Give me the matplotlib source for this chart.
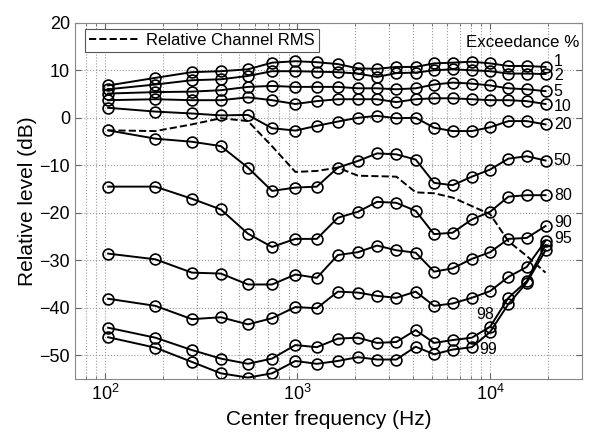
import matplotlib.pyplot as plt
import numpy as np

plt.rcParams['font.family'] = ['Liberation Sans', 'DejaVu Sans']

freq = [104, 183, 283, 400, 553, 738, 975, 1260, 1620, 2060,
        2590, 3260, 4110, 5120, 6390, 8040, 10000, 12450, 15500, 19400]

exc_labels = ["1", "2", "5", "10", "20", "50", "80", "90", "95", "98", "99"]

p1 = [6.8, 8.4, 9.6, 9.8, 10.2, 11.6, 11.9, 11.7, 11.3, 10.4,
      10.3, 10.7, 10.7, 11.45, 11.6, 11.8, 11.45, 10.9, 10.9, 10.7]
p2 = [6.0, 7.0, 7.9, 8.1, 8.8, 9.8, 9.8, 9.7, 9.6, 9.3,
      8.6, 9.4, 9.5, 10.0, 10.2, 10.0, 9.8, 9.3, 9.3, 9.2]
p5 = [5.1, 5.4, 5.5, 5.8, 6.5, 6.7, 6.5, 6.5, 6.5, 6.2,
      6.2, 6.0, 6.2, 7.0, 7.4, 7.2, 6.8, 6.2, 6.0, 5.6]
p10 = [3.7, 3.9, 3.7, 3.7, 4.3, 3.7, 2.9, 3.5, 3.9, 3.9,
       3.9, 3.3, 3.9, 4.1, 4.1, 3.9, 3.7, 3.7, 3.5, 2.9]
p20 = [2.1, 1.3, 0.9, 0.5, 0.6, -2.2, -2.7, -1.7, -0.8, 0.0,
       0.4, -0.1, 0.0, -2.1, -2.8, -2.8, -2.0, -0.7, -0.7, -1.4]
p50 = [-2.65, -4.4, -5.05, -5.96, -10.5, -15.4, -14.7, -14.5, -10.5, -9.1,
       -7.5, -7.7, -8.8, -13.7, -14.2, -12.4, -10.9, -8.6, -8.1, -9.0]
p80 = [-14.5, -14.5, -17.05, -19.3, -24.4, -27.2, -25.5, -25.5, -21.05, -19.8,
       -17.7, -17.9, -19.6, -24.5, -24.2, -21.4, -19.8, -16.6, -16.3, -16.3]
p90 = [-28.6, -29.8, -32.6, -32.8, -35.1, -35.1, -33.0, -33.7, -28.9, -28.3,
       -26.9, -27.9, -28.4, -32.4, -31.7, -29.7, -28.3, -25.5, -25.3, -22.8]
p95 = [-38.1, -39.6, -42.4, -42.0, -43.5, -42.2, -39.85, -40.1, -36.6, -36.8,
       -37.5, -37.9, -36.6, -39.6, -39.1, -37.9, -36.5, -33.5, -31.4, -25.9]
p98 = [-44.2, -46.3, -48.9, -50.7, -51.8, -50.7, -47.85, -48.3, -46.5, -46.3,
       -47.4, -47.2, -44.7, -47.4, -46.8, -46.3, -44.0, -37.9, -34.4, -26.8]
p99 = [-46.2, -48.4, -51.4, -53.8, -54.7, -53.8, -51.2, -51.8, -51.2, -50.4,
       -50.9, -50.9, -48.2, -49.8, -48.8, -48.3, -45.1, -39.2, -34.7, -27.9]

rms = [-2.65, -2.8, -1.4, -0.1, -0.7, -6.0, -11.4, -11.2, -10.5, -12.2,
       -12.3, -12.4, -15.7, -15.9, -16.8, -18.6, -20.3, -26.0, -29.1, -32.6]

curves = [p1, p2, p5, p10, p20, p50, p80, p90, p95, p98, p99]

fig = plt.figure(figsize=(6.01, 4.42), dpi=100)
ax = fig.add_axes([0.1248, 0.1425, 0.8436, 0.806])

ax.plot(freq, rms, 'k--', lw=1.4, label="Relative Channel RMS")
for c in curves:
    ax.plot(freq, c, 'k-', lw=1.4, marker='o', ms=7.8, mfc='none', mec='k', mew=1.2)

# labels at right end of each curve
dy = [4, -1, 0, -1.5, 0, 0, 0, 2.5, 1.5]
for lab, c, d in zip(exc_labels[:9], curves[:9], dy):
    ax.annotate(lab, (freq[-1], c[-1]), xytext=(6, d), textcoords='offset points',
                ha='left', va='center', fontsize=11.5)
ax.annotate("98", (freq[16], p98[16]), xytext=(3, 9), textcoords='offset points',
            ha='right', va='center', fontsize=11.5)
ax.annotate("99", (freq[15], p99[15]), xytext=(5, -1.5), textcoords='offset points',
            ha='left', va='center', fontsize=11.5)
ax.text(0.995, 0.944, "Exceedance %", transform=ax.transAxes, ha='right',
        va='center', fontsize=12.2)

ax.set_xscale('log')
ax.set_xlim(70, 30000)
ax.set_ylim(-55, 20)
ax.set_yticks(np.arange(-50, 21, 10))
ax.grid(True, which='major', ls=':', color='#999999', lw=0.8)
ax.grid(True, which='minor', axis='x', ls=':', color='#999999', lw=0.8)
ax.tick_params(which='both', direction='in', top=True, right=True,
               labelsize=13, color='#666666')
ax.tick_params(which='major', length=4)
ax.tick_params(which='minor', length=2)
for s in ax.spines.values():
    s.set_color('#888888')

ax.set_xlabel("Center frequency (Hz)", fontsize=15, labelpad=4)
ax.set_ylabel("Relative level (dB)", fontsize=15, labelpad=2)

leg = ax.legend(loc='upper left', fontsize=12, handlelength=3.0,
                fancybox=False, framealpha=1, borderpad=0.25, borderaxespad=0,
                bbox_to_anchor=(0.02, 0.983), handletextpad=0.4)
leg.get_frame().set_edgecolor('#555555')
leg.get_frame().set_linewidth(0.8)

fig.savefig("out.png", dpi=100)
